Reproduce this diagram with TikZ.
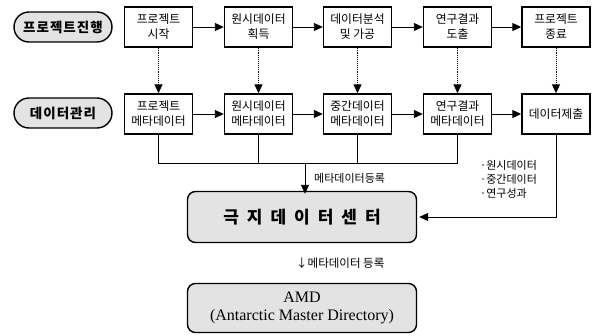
\documentclass[tikz,border=0pt]{standalone}
\usepackage{fontspec}
\setmainfont{Noto Sans CJK KR}
\newfontfamily\serifL{Liberation Serif}
\usetikzlibrary{arrows.meta}
\begin{document}
\begin{tikzpicture}[x=1pt,y=-1pt,
  box/.style={draw,line width=1.4pt,minimum width=68pt,minimum height=40pt,align=center,inner sep=1pt,font=\fontsize{11.8}{15}\selectfont},
  oval/.style={draw,line width=1.4pt,fill=gray!22,rounded corners=15pt,minimum width=98pt,minimum height=30pt,font=\bfseries\fontsize{13.5}{15}\selectfont},
  bigbox/.style={draw,line width=1.4pt,fill=gray!22,rounded corners=8pt,align=center},
  arr/.style={-{Triangle[length=9pt,width=8pt]},line width=0.9pt},
  dotarr/.style={densely dotted,line width=0.9pt,-{Triangle[length=9pt,width=8pt]}},
  conn/.style={line width=0.9pt},
  lbl/.style={inner sep=0pt,font=\fontsize{11}{14}\selectfont,align=left}
]
\useasboundingbox (0,0) rectangle (594,335);
\node[oval] (p1) at (63,27) {프\hspace{1pt}로\hspace{1pt}젝\hspace{1pt}트\hspace{1pt}진\hspace{1pt}행};
\node[oval] (p2) at (63,113) {데\hspace{1pt}이\hspace{1pt}터\hspace{1pt}관\hspace{1pt}리};
\node[box] (a1) at (158.5,27) {프로젝트\\시작};
\node[box] (a2) at (258.5,27) {원시데이터\\획득};
\node[box] (a3) at (357.5,27) {데이터분석\\및 가공};
\node[box] (a4) at (457.5,27) {연구결과\\도출};
\node[box] (a5) at (556,27) {프로젝트\\종료};
\node[box] (b1) at (158.5,114) {프로젝트\\메타데이터};
\node[box] (b2) at (258.5,114) {원시데이터\\메타데이터};
\node[box] (b3) at (357.5,114) {중간데이터\\메타데이터};
\node[box] (b4) at (457.5,114) {연구결과\\메타데이터};
\node[box] (b5) at (556,114) {데이터제출};
\foreach \i/\j in {1/2,2/3,3/4,4/5}{
  \draw[arr] (a\i.east) -- (a\j.west);
  \draw[arr] (b\i.east) -- (b\j.west);
}
\foreach \i in {1,...,5}{\draw[dotarr] (a\i.south) -- (b\i.north);}
\node[bigbox,minimum width=229pt,minimum height=51pt,font=\bfseries\fontsize{17}{20}\selectfont] (c) at (302,217)
  {극\hspace{8pt}지\hspace{8pt}데\hspace{8pt}이\hspace{8pt}터\hspace{8pt}센\hspace{8pt}터};
\node[bigbox,minimum width=229pt,minimum height=49pt,font=\serifL\fontsize{16}{18}\selectfont] (d) at (302,308)
  {AMD\\(Antarctic Master Directory)};
\coordinate (h) at (0,163);
\coordinate (m) at (305,163);
\draw[conn] (b1.south) -- (b1.south |- h) -- (b4.south |- h) -- (b4.south);
\draw[conn] (b2.south) -- (b2.south |- h);
\draw[conn] (b3.south) -- (b3.south |- h);
\draw[arr] (m) -- ([yshift=-3pt]m |- c.north);
\draw[arr] (b5.south) -- (b5.south |- c.east) -- ([xshift=2pt]c.east);
\node[lbl,anchor=west] (l1) at (314,178) {메타데이터등록};
\node[lbl,anchor=north west] (l2) at (480,160) {·원시데이터\\·중간데이터\\·연구성과};
\node[lbl,anchor=west,font=\fontsize{11.5}{13}\selectfont] (l3) at (296,263) {↓메타데이터 등록};
\end{tikzpicture}
\end{document}
